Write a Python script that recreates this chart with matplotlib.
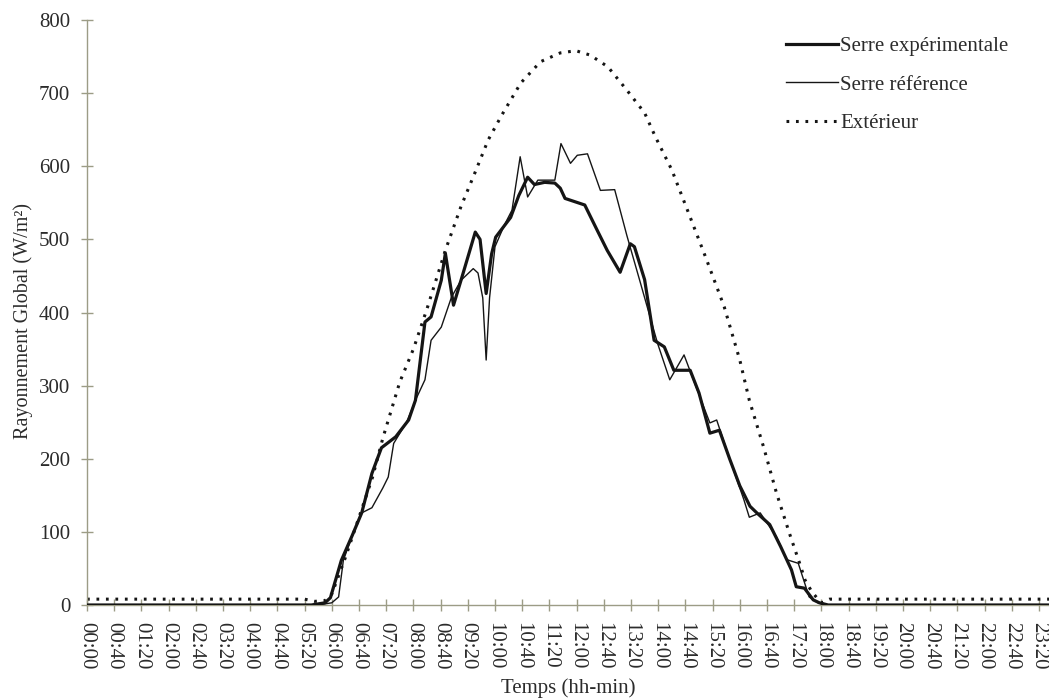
import numpy as np
import matplotlib.pyplot as plt

# Serre expérimentale (thick line)
exp_times = ['00:00', '05:30', '05:50', '05:58', '06:14', '06:30', '06:44', '06:59', '07:13', '07:34',
             '07:53', '08:03', '08:17', '08:26', '08:41', '08:47', '08:59', '09:10', '09:31', '09:38',
             '09:47', '09:55', '10:01', '10:23', '10:35', '10:48', '10:58', '11:13', '11:28', '11:36',
             '11:43', '12:12', '12:30', '12:45', '13:04', '13:19', '13:25', '13:40', '13:54', '14:09',
             '14:23', '14:47', '15:00', '15:16', '15:30', '15:45', '16:00', '16:15', '16:25', '16:44',
             '17:00', '17:16', '17:23', '17:35', '17:48', '17:57', '18:10', '23:50']
exp_values = [0, 0, 3, 10, 61, 95, 126, 180, 215, 230,
              253, 280, 387, 394, 444, 481, 410, 444, 510, 500,
              426, 480, 503, 530, 560, 585, 575, 578, 577, 570,
              556, 547, 513, 485, 455, 494, 490, 445, 362, 353,
              321, 321, 290, 235, 239, 200, 163, 135, 126, 110,
              80, 48, 25, 23, 7, 3, 0, 0]

# Serre référence (thin line)
ref_times = ['00:00', '05:40', '06:00', '06:10', '06:17', '06:30', '06:44', '06:59', '07:15', '07:23',
             '07:31', '07:50', '08:05', '08:17', '08:26', '08:41', '08:56', '09:10', '09:28', '09:35',
             '09:42', '09:47', '09:52', '10:00', '10:14', '10:25', '10:37', '10:48', '11:03', '11:28',
             '11:37', '11:51', '12:01', '12:16', '12:35', '12:56', '13:14', '13:34', '13:59', '14:17',
             '14:38', '14:55', '15:16', '15:26', '15:45', '16:06', '16:14', '16:30', '16:54', '17:09',
             '17:26', '17:34', '17:42', '17:55', '18:10', '23:50']
ref_values = [0, 0, 3, 11, 61, 95, 126, 133, 160, 175,
              221, 250, 284, 308, 362, 380, 421, 444, 460, 454,
              420, 335, 420, 490, 520, 540, 613, 558, 581, 581,
              631, 604, 615, 617, 567, 568, 505, 440, 358, 308,
              342, 300, 249, 253, 200, 144, 120, 126, 93, 62,
              57, 34, 11, 3, 0, 0]

# Extérieur (dotted line)
ext_times = ['00:00', '05:20', '05:35', '05:50', '06:00', '06:20', '06:40', '07:00', '07:15', '07:40',
             '08:00', '08:20', '08:47', '09:10', '09:30', '09:50', '10:10', '10:38', '11:07', '11:36',
             '11:59', '12:20', '12:46', '13:14', '13:40', '13:56', '14:20', '14:43', '15:10', '15:37',
             '16:00', '16:14', '16:35', '16:54', '17:13', '17:28', '17:36', '17:46', '17:55', '18:00',
             '18:12', '23:50']
ext_values = [8, 8, 5, 6, 15, 65, 120, 175, 228, 305,
              350, 405, 485, 545, 590, 636, 670, 714, 743, 755,
              758, 752, 736, 704, 673, 640, 595, 540, 475, 408,
              335, 280, 216, 153, 98, 57, 34, 18, 8, 3,
              8, 8]

y_ticks = [0, 100, 200, 300, 400, 500, 600, 700, 800]


def to_hours(times):
    return np.array([int(t[:2]) + int(t[3:]) / 60 for t in times])


plt.rcParams['font.family'] = 'Liberation Serif'
plt.rcParams['font.size'] = 15

text_color = '#2b2b2b'
axis_color = '#9c9c86'
line_color = '#151515'

fig = plt.figure(figsize=(10.49, 7), dpi=100)
ax = fig.add_axes([87 / 1049, 95 / 700, 962 / 1049, 585 / 700])

ax.plot(to_hours(exp_times), exp_values, color=line_color, lw=2.3,
        solid_joinstyle='round', label='Serre expérimentale', zorder=3)
ax.plot(to_hours(ref_times), ref_values, color=line_color, lw=1.0,
        solid_joinstyle='round', label='Serre référence', zorder=4)
ax.plot(to_hours(ext_times), ext_values, color=line_color, lw=2.2,
        linestyle=(0, (0.9, 2.2)), label='Extérieur', zorder=2)

ax.set_xlim(0, 962 / 40.8)
ax.set_ylim(0, 800)

tick_pos = np.arange(0, 24, 2 / 3)
tick_lab = [f"{int(round(p * 60)) // 60:02d}:{int(round(p * 60)) % 60:02d}" for p in tick_pos]
ax.set_xticks(tick_pos)
ax.set_xticklabels(tick_lab, rotation=-90, va='top', ha='center')
ax.set_yticks(y_ticks)

for side in ['top', 'right']:
    ax.spines[side].set_visible(False)
for side in ['left', 'bottom']:
    ax.spines[side].set_color(axis_color)
    ax.spines[side].set_linewidth(1.0)

ax.tick_params(axis='both', direction='inout', length=8, width=1.0,
               color=axis_color, labelcolor=text_color, labelsize=15)
ax.tick_params(axis='x', pad=8)
ax.tick_params(axis='y', pad=8)

ax.set_xlabel('Temps (hh-min)', color=text_color, fontsize=15, va='center')
ax.set_ylabel('Rayonnement Global (W/m²)', color=text_color, fontsize=14.5, va='center')
ax.xaxis.set_label_coords(0.5, -(688 - 605) / 585)
ax.yaxis.set_label_coords(-(87 - 23) / 962, (605 - 321) / 585)

leg = ax.legend(loc='upper right', bbox_to_anchor=((1025 - 87) / 962, 1.0), frameon=False,
                handlelength=2.5, handletextpad=0.1, labelspacing=0.9,
                borderaxespad=0.4, fontsize=15)
for t in leg.get_texts():
    t.set_color(text_color)

fig.savefig('out.png', dpi=100, facecolor='white')
